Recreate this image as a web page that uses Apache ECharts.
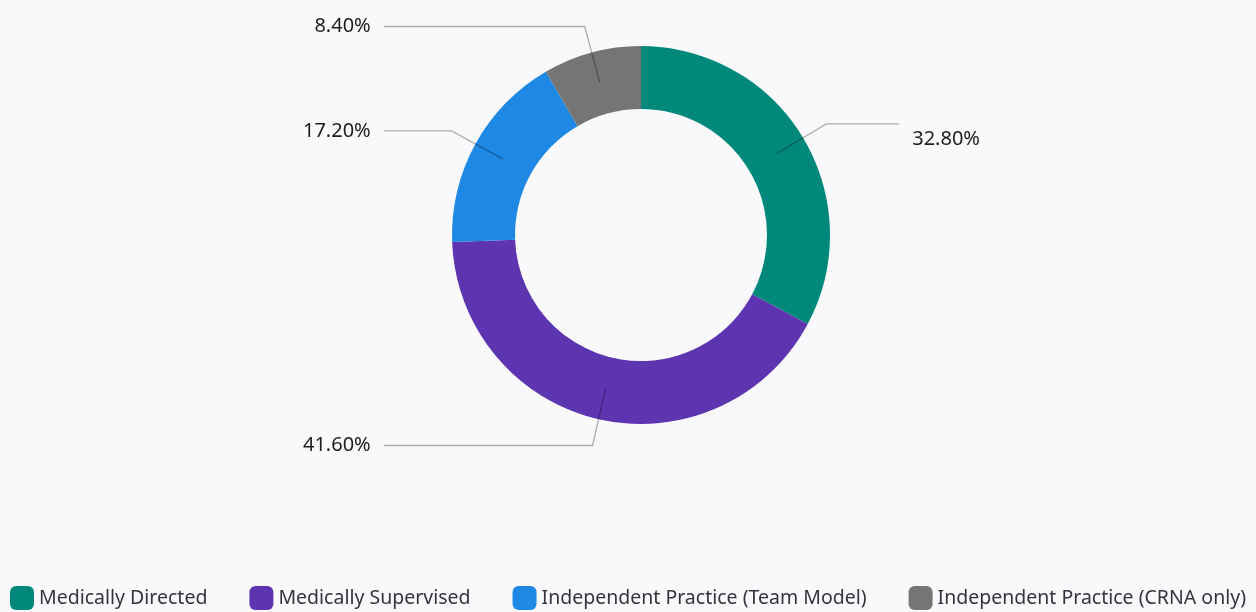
<!DOCTYPE html>
<html>
<head>
    <meta charset="UTF-8">
    <title>Practice Model Share</title>
    <script src="https://cdn.jsdelivr.net/npm/echarts@6/dist/echarts.min.js"></script>
    <style>
        html, body { margin: 0; padding: 0; background: #f9f9fb; }
        #chart { width: 1256px; height: 612px; }
    </style>
</head>
<body>
    <div id="chart"></div>
    <script>
        // 数据
        const categories = [
            'Medically Directed',
            'Medically Supervised',
            'Independent Practice (Team Model)',
            'Independent Practice (CRNA only)'
        ];
        const shares = [32.8, 41.6, 17.2, 8.4];
        const colors = ['#00897b', '#5e35b1', '#1e88e5', '#757575'];

        const fontFamily = '"Noto Sans", sans-serif';

        const ringData = categories.map((name, i) => ({ name: name, value: shares[i] }));
        // 标签用的数据：右侧那一项的文字略微下移，引线稍长
        const labelData = categories.map((name, i) => {
            const item = { name: name, value: shares[i] };
            if (i === 0) {
                item.label = { lineHeight: 30 };
                item.labelLine = { length2: 73 };
            }
            return item;
        });

        const chart = echarts.init(document.getElementById('chart'));
        chart.setOption({
            backgroundColor: '#f9f9fb',
            color: colors,
            legend: {
                data: categories,
                left: 5,
                bottom: -3,
                icon: 'roundRect',
                itemWidth: 24,
                itemHeight: 24,
                itemGap: 42,
                textStyle: { fontFamily: fontFamily, fontSize: 19.5, color: '#32363a' }
            },
            series: [
                {
                    // 圆环
                    type: 'pie',
                    z: 2,
                    center: [641, 235],
                    radius: [126, 189],
                    startAngle: 90,
                    clockwise: true,
                    silent: true,
                    label: { show: false },
                    labelLine: { show: false },
                    data: ringData
                },
                {
                    // 标签（引线从圆环中部开始）
                    type: 'pie',
                    z: 5,
                    center: [641, 235],
                    radius: [0, 158],
                    startAngle: 90,
                    clockwise: true,
                    silent: true,
                    itemStyle: { color: 'rgba(0,0,0,0)' },
                    label: {
                        show: true,
                        alignTo: 'labelLine',
                        distanceToLabelLine: 13,
                        formatter: p => (p.dataIndex === 0 ? '\n' : '') + p.value.toFixed(2) + '%',
                        fontFamily: fontFamily,
                        fontSize: 20,
                        color: '#1d1d1d'
                    },
                    labelLine: {
                        show: true,
                        length: 58,
                        length2: 68,
                        lineStyle: { color: 'rgba(0,0,0,0.3)', width: 1.3 }
                    },
                    data: labelData
                }
            ]
        });
    </script>
</body>
</html>
